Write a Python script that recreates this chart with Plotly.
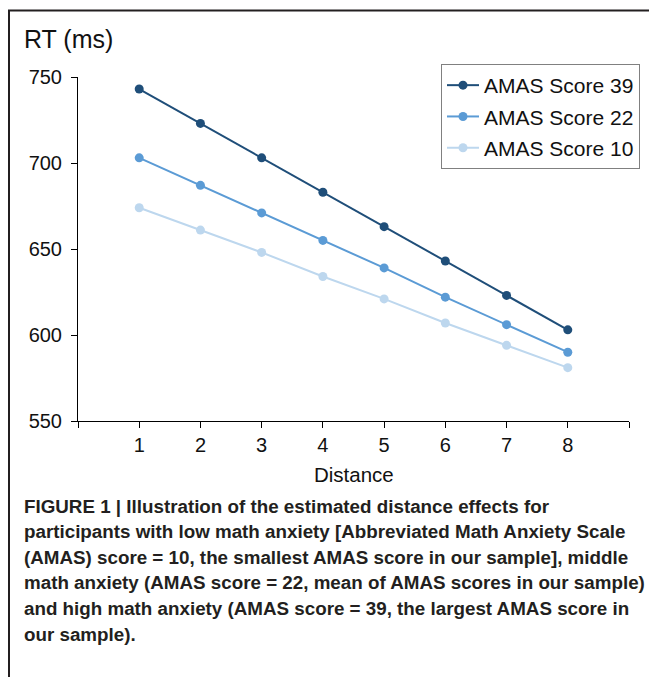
import plotly.graph_objects as go

distance = [1, 2, 3, 4, 5, 6, 7, 8]
rt_39 = [743, 723, 703, 683, 663, 643, 623, 603]
rt_22 = [703, 687, 671, 655, 639, 622, 606, 590]
rt_10 = [674, 661, 648, 634, 621, 607, 594, 581]
series_names = ["AMAS Score 39", "AMAS Score 22", "AMAS Score 10"]
colors = ["#1F4E79", "#5B9BD5", "#BDD7EE"]
y_ticks = [550, 600, 650, 700, 750]
x_tickvals = [0, 1, 2, 3, 4, 5, 6, 7, 8, 9]
x_ticktext = ["", "1", "2", "3", "4", "5", "6", "7", "8", ""]
caption_lines = [
    "FIGURE 1 | Illustration of the estimated distance effects for",
    "participants with low math anxiety [Abbreviated Math Anxiety Scale",
    "(AMAS) score = 10, the smallest AMAS score in our sample], middle",
    "math anxiety (AMAS score = 22, mean of AMAS scores in our sample)",
    "and high math anxiety (AMAS score = 39, the largest AMAS score in",
    "our sample).",
]

# page body has an 8px margin; work in reference-pixel coordinates and shift
OFF = 8
W, H = 657 - OFF, 677 - OFF
L, R, T, B = 78 - OFF, 28, 77 - OFF, 256
pw, ph = W - L - R, H - T - B

def px(x):
    return (x - OFF - L) / pw

def py(y):
    return (H - B - (y - OFF)) / ph

FONT = "Liberation Sans, Arial, sans-serif"

fig = go.Figure()
for name, vals, c in zip(series_names, [rt_39, rt_22, rt_10], colors):
    fig.add_trace(go.Scatter(
        x=distance, y=vals, mode="lines+markers", name=name,
        line=dict(color=c, width=2), marker=dict(color=c, size=9),
        legendgroup=name,
    ))

fig.update_layout(
    width=W, height=H,
    margin=dict(l=L, r=R, t=T, b=B),
    paper_bgcolor="white", plot_bgcolor="white",
    font=dict(family=FONT, size=20, color="#111"),
    showlegend=True,
    legend=dict(
        x=px(441), y=py(64), xanchor="left", yanchor="top",
        bordercolor="#808080", borderwidth=1, bgcolor="white",
        font=dict(size=21, family=FONT, color="#111"),
        tracegroupgap=1, itemwidth=32,
    ),
    xaxis=dict(
        range=[0, 9], tickvals=x_tickvals, ticktext=x_ticktext,
        showline=True, linecolor="black", linewidth=1,
        ticks="outside", ticklen=6, tickcolor="black",
        showgrid=False, zeroline=False,
        tickfont=dict(size=20, family=FONT),
    ),
    yaxis=dict(
        range=[550, 750], tickvals=y_ticks,
        showline=True, linecolor="black", linewidth=1,
        ticks="outside", ticklen=6, tickcolor="black",
        showgrid=False, zeroline=False,
        tickfont=dict(size=20, family=FONT),
        ticklabelstandoff=5,
    ),
)

fig.add_annotation(text="RT (ms)", xref="paper", yref="paper",
                   x=px(22), y=py(39), xanchor="left", yanchor="middle",
                   showarrow=False, font=dict(size=25, family=FONT, color="#111"))
fig.add_annotation(text="Distance", xref="paper", yref="paper",
                   x=px(354), y=py(474), xanchor="center", yanchor="middle",
                   showarrow=False, font=dict(size=20.5, family=FONT, color="#111"))

for i, line in enumerate(caption_lines):
    fig.add_annotation(text="<b>" + line + "</b>", xref="paper", yref="paper",
                       x=px(22), y=py(506 + i * 25.6), xanchor="left", yanchor="middle",
                       showarrow=False, font=dict(size=18.8, family=FONT, color="#231F20"))

fig.add_shape(type="line", xref="paper", yref="paper",
              x0=px(9), x1=px(9), y0=py(10), y1=py(690),
              line=dict(color="#231F20", width=2))
fig.add_shape(type="line", xref="paper", yref="paper",
              x0=px(8), x1=px(670), y0=py(10.5), y1=py(10.5),
              line=dict(color="#231F20", width=2))

fig.write_html("out.html")
